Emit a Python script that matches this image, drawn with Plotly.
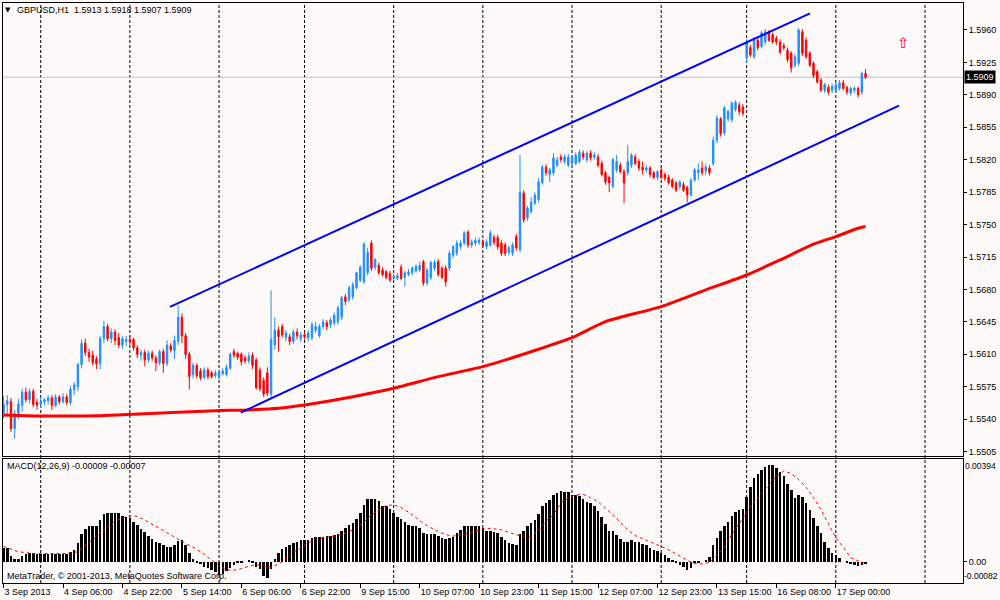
import plotly.graph_objects as go

# ---------------- data (prices in 1/10000) ----------------
opens = [15547,15556,15559,15530,15545,15555,15569,15561,15570,15558,15556,15559,15560,15563,15555,15564,15559,15564,15558,15572,
15575,15599,15622,15612,15609,15605,15600,15627,15640,15627,15634,15628,15620,15624,15626,15626,15617,15609,15612,15604,
15611,15606,15601,15613,15600,15619,15614,15624,15650,15630,15610,15588,15598,15592,15585,15593,15590,15587,15586,15589,
15588,15595,15613,15611,15610,15606,15603,15609,15604,15593,15582,15590,15567,15620,15636,15640,15628,15629,15624,15634,
15627,15631,15628,15628,15636,15630,15640,15644,15642,15644,15645,15650,15672,15669,15672,15682,15690,15688,15698,15730,
15704,15706,15701,15699,15697,15692,15692,15704,15693,15696,15698,15700,15701,15710,15687,15693,15703,15710,15703,15703,
15703,15717,15719,15726,15730,15742,15728,15730,15731,15731,15726,15728,15736,15736,15730,15728,15720,15719,15737,15723,
15784,15757,15764,15773,15777,15795,15812,15804,15806,15814,15823,15818,15814,15816,15816,15818,15827,15820,15827,15823,
15823,15816,15806,15801,15791,15809,15814,15807,15806,15814,15823,15818,15812,15809,15811,15806,15801,15809,15804,15801,
15798,15795,15791,15793,15790,15782,15798,15806,15811,15808,15811,15816,15841,15864,15849,15864,15863,15874,15879,15877,
15930,15941,15931,15949,15942,15947,15957,15955,15951,15947,15943,15938,15935,15922,15924,15958,15949,15935,15924,15915,
15906,15895,15898,15895,15895,15897,15903,15898,15892,15895,15897,15893,15913]
highs = [15565,15566,15563,15550,15562,15573,15574,15573,15573,15562,15564,15563,15566,15566,15567,15566,15568,15567,15576,15580,
15601,15626,15627,15616,15614,15608,15630,15646,15643,15638,15637,15633,15630,15630,15630,15628,15620,15615,15615,15614,
15614,15609,15615,15616,15625,15622,15630,15663,15654,15633,15613,15601,15600,15595,15596,15596,15592,15593,15592,15595,
15599,15612,15616,15613,15612,15609,15612,15612,15606,15596,15585,15596,15679,15650,15640,15643,15636,15632,15637,15638,
15634,15634,15636,15645,15645,15643,15648,15647,15650,15655,15663,15673,15675,15684,15688,15699,15706,15731,15725,15733,
15714,15709,15704,15701,15700,15697,15698,15707,15700,15702,15705,15707,15710,15712,15703,15711,15712,15713,15705,15706,
15722,15728,15733,15733,15743,15744,15734,15736,15736,15734,15734,15744,15739,15739,15733,15731,15727,15731,15740,15825,
15787,15770,15780,15785,15800,15815,15815,15811,15827,15823,15826,15826,15826,15825,15828,15831,15830,15829,15830,15828,
15826,15819,15808,15803,15822,15825,15817,15810,15836,15827,15826,15821,15818,15814,15813,15808,15809,15812,15806,15804,
15800,15797,15798,15796,15792,15800,15811,15816,15818,15815,15814,15845,15868,15866,15878,15874,15883,15884,15882,15880,
15950,15944,15952,15952,15959,15961,15960,15957,15954,15950,15946,15941,15937,15934,15962,15961,15952,15937,15926,15917,
15908,15903,15901,15902,15904,15906,15906,15900,15899,15899,15899,15915,15918]
lows = [15541,15545,15526,15519,15540,15548,15558,15557,15553,15550,15552,15555,15556,15550,15553,15556,15557,15555,15555,15566,
15570,15595,15608,15602,15598,15594,15594,15622,15624,15622,15620,15617,15616,15619,15620,15614,15606,15603,15597,15601,
15603,15592,15598,15590,15597,15612,15605,15620,15622,15605,15572,15584,15584,15582,15583,15583,15584,15584,15583,15587,
15586,15593,15606,15604,15598,15600,15600,15594,15572,15570,15564,15565,15564,15615,15613,15628,15624,15620,15621,15626,
15623,15626,15624,15625,15633,15628,15637,15636,15638,15641,15642,15647,15663,15666,15669,15680,15688,15686,15695,15700,
15701,15696,15694,15691,15688,15689,15690,15690,15683,15694,15695,15698,15699,15684,15684,15690,15700,15694,15691,15683,
15700,15714,15716,15723,15728,15725,15725,15727,15728,15725,15723,15726,15728,15723,15716,15716,15717,15716,15722,15720,
15752,15754,15762,15771,15774,15793,15803,15796,15803,15812,15817,15815,15812,15813,15814,15816,15820,15817,15819,15820,
15812,15802,15793,15785,15789,15806,15805,15773,15803,15811,15814,15808,15804,15806,15801,15799,15798,15799,15797,15793,
15789,15785,15788,15785,15774,15780,15796,15798,15803,15804,15803,15813,15838,15845,15846,15861,15860,15872,15868,15867,
15925,15931,15929,15938,15940,15944,15947,15945,15944,15934,15938,15925,15914,15919,15921,15932,15929,15920,15908,15902,
15893,15892,15890,15892,15892,15895,15895,15890,15889,15892,15887,15890,15907]
closes = [15556,15560,15530,15546,15556,15569,15561,15570,15556,15555,15559,15561,15563,15555,15564,15559,15564,15558,15572,15577,
15599,15622,15612,15607,15601,15600,15627,15640,15627,15634,15625,15620,15627,15626,15624,15617,15610,15612,15604,15611,
15606,15601,15613,15600,15620,15615,15625,15650,15630,15610,15586,15598,15587,15585,15593,15586,15586,15590,15590,15592,
15596,15610,15609,15607,15602,15603,15608,15598,15574,15573,15567,15568,15626,15636,15629,15631,15633,15624,15634,15630,
15631,15629,15633,15642,15640,15640,15645,15640,15647,15652,15660,15671,15667,15682,15685,15698,15704,15729,15720,15703,
15712,15698,15696,15693,15690,15694,15695,15692,15698,15699,15703,15705,15706,15687,15701,15709,15709,15696,15693,15688,
15719,15726,15730,15730,15741,15728,15731,15733,15733,15728,15731,15741,15731,15726,15719,15719,15725,15728,15725,15785,
15755,15768,15774,15782,15796,15812,15806,15809,15822,15820,15820,15823,15823,15823,15825,15828,15823,15827,15822,15825,
15814,15804,15796,15795,15820,15818,15807,15795,15818,15825,15816,15811,15809,15811,15804,15801,15807,15801,15800,15795,
15791,15787,15796,15787,15782,15798,15809,15809,15806,15812,15806,15841,15865,15848,15876,15872,15881,15882,15872,15870,
15946,15933,15949,15941,15957,15958,15949,15947,15947,15936,15941,15928,15919,15931,15960,15935,15931,15922,15911,15904,
15895,15901,15893,15899,15901,15903,15897,15893,15897,15897,15890,15913,15909]

# MACD main line (histogram) in 1e-5
macd = [54,51,20,10,11,22,30,34,32,30,30,29,28,28,29,29,30,30,37,44,
70,105,126,136,138,138,160,182,188,188,186,186,177,173,167,151,141,126,113,100,
87,75,71,62,58,55,64,80,82,62,32,10,-2,-10,-19,-25,-32,-41,-51,-49,
-36,-23,-13,-6,-4,0,3,-6,-19,-28,-54,-61,-28,10,32,47,57,64,71,74,
82,83,82,92,94,96,96,98,100,103,108,118,128,141,148,163,186,218,240,240,
240,231,215,215,203,186,173,164,151,141,137,135,131,109,105,105,105,100,92,86,
90,95,109,122,135,135,135,135,135,128,119,119,115,109,96,83,70,67,64,105,
118,135,149,160,182,212,227,237,256,265,272,269,266,256,256,252,241,230,224,214,
195,173,144,118,118,102,87,74,77,83,77,74,67,62,51,45,41,32,26,15,
3,-6,-12,-19,-32,-23,-6,-2,0,7,19,64,90,118,135,154,177,190,199,202,
250,285,320,337,352,365,371,371,361,346,327,297,275,246,254,247,224,199,169,137,
109,77,54,32,26,13,0,-2,-9,-13,-17,-12,-9]

# Signal line (read at sample bars), 1e-5
sig_idx = [0,4,8,13,17,20,22,24,26,28,30,32,34,36,38,41,44,47,49,51,53,56,58,60,62,64,66,68,70,72,74,76,78,80,82,84,86,88,91,93,95,97,99,101,103,105,107,109,111,113,115,117,119,121,124,126,129,131,134,136,138,140,142,144,146,148,150,152,154,156,158,160,162,164,166,168,170,172,174,176,178,180,182,184,186,188,190,192,194,196,198,200,202,204,206,208,210,212,214,216,218,220,222,224,226,228,230,232]
sig_val = [58,38,31,30,31,38,60,85,109,135,154,168,176,174,160,135,109,85,70,55,38,6,-15,-32,-33,-27,-18,-12,-17,-20,-10,10,35,55,72,84,90,96,104,115,130,152,180,200,215,218,208,190,168,147,130,115,104,98,105,112,126,128,122,112,103,97,98,120,155,180,225,245,256,258,246,230,205,180,150,122,100,88,78,65,52,38,20,5,-8,-9,-3,25,55,105,145,185,228,262,295,327,348,338,315,285,245,200,145,92,55,15,3,-7]

# Moving average (read at sample bars)
ma_idx = [0,10,26,35,47,57,66,74,81,94,105,117,129,144,153,162,177,189,200,209,218,224,230,232]
ma_val = [1.55446,1.55435,1.55438,1.55453,1.55475,1.55492,1.55500,1.55518,1.55554,1.55643,1.55734,1.55859,1.55967,1.56155,1.56280,1.56453,1.56615,1.56795,1.56956,1.57118,1.57288,1.57370,1.57460,1.57480]

# Channel (trend lines): bar index and price at both ends
chan_up_idx = [44.8, 217.05]
chan_up_px = [1.56611, 1.59780]
chan_lo_idx = [63.83, 241.0]
chan_lo_px = [1.55471, 1.58783]

time_tick_idx = [0,16,32,48,64,80,96,112,128,144,160,176,192,208,224]
time_tick_text = ["3 Sep 2013","4 Sep 06:00","4 Sep 22:00","5 Sep 14:00","6 Sep 06:00","6 Sep 22:00",
                  "9 Sep 15:00","10 Sep 07:00","10 Sep 23:00","11 Sep 15:00","12 Sep 07:00","12 Sep 23:00",
                  "13 Sep 15:00","16 Sep 08:00","17 Sep 00:00"]
day_start_idx = [10,34,58,81,105,129,153,177,200,224,248]
price_ticks = [1.5960,1.5925,1.5890,1.5855,1.5820,1.5785,1.5750,1.5715,1.5680,1.5645,1.5610,1.5575,1.5540,1.5505]
price_range = [1.55003, 1.59891]
x_range = [-0.15, 258.23]
last_price = 1.5909
arrow_idx, arrow_px = 242.1, 1.5946
macd_range = [-0.00082, 0.00394]

title_text = "GBPUSD,H1\u00a0 1.5913 1.5918 1.5907 1.5909"
macd_text = "MACD(12,26,9) -0.00009 -0.00007"
copyright_text = "MetaTrader, © 2001-2013, MetaQuotes Software Corp."

# ---------------- figure ----------------
P = 10000.0
idx = list(range(len(closes)))
FONT = "Liberation Sans, Arial, sans-serif"
BG = "#FFFAFA"

fig = go.Figure()
fig.add_trace(go.Candlestick(
    x=idx, open=[v / P for v in opens], high=[v / P for v in highs],
    low=[v / P for v in lows], close=[v / P for v in closes],
    increasing=dict(line=dict(color="#1E90FF", width=1), fillcolor="#1E90FF"),
    decreasing=dict(line=dict(color="#FF0000", width=1), fillcolor="#FF0000"),
    whiskerwidth=0, xaxis="x", yaxis="y", hoverinfo="skip"))
fig.add_trace(go.Scatter(x=ma_idx, y=ma_val, mode="lines",
                         line=dict(color="#FF0000", width=3, shape="spline", smoothing=0.6),
                         xaxis="x", yaxis="y"))
fig.add_trace(go.Scatter(x=chan_up_idx, y=chan_up_px, mode="lines",
                         line=dict(color="#0000FF", width=2), xaxis="x", yaxis="y"))
fig.add_trace(go.Scatter(x=chan_lo_idx, y=chan_lo_px, mode="lines",
                         line=dict(color="#0000FF", width=2), xaxis="x", yaxis="y"))
fig.add_trace(go.Bar(x=idx, y=[v / 1e5 for v in macd], width=0.68,
                     marker=dict(color="#000000", line=dict(width=0)),
                     xaxis="x2", yaxis="y2"))
fig.add_trace(go.Scatter(x=sig_idx, y=[v / 1e5 for v in sig_val], mode="lines",
                         line=dict(color="#FF0000", width=1, dash="dot"),
                         xaxis="x2", yaxis="y2"))

shapes = []
for d in day_start_idx:
    shapes.append(dict(type="line", xref="x", yref="paper", x0=d, x1=d, y0=0, y1=1,
                       line=dict(color="#000000", width=1, dash="3px,2px"), layer="below"))
shapes.append(dict(type="line", xref="paper", yref="y", x0=0, x1=1, y0=last_price, y1=last_price,
                   line=dict(color="#C0C0C0", width=1), layer="below"))

tf = dict(family=FONT, size=9, color="#000000")
tf_small = dict(family=FONT, size=8.5, color="#000000")
annotations = [
    dict(text="▼", xref="paper", yref="paper", x=0, y=1, xanchor="left", yanchor="top",
         xshift=0, yshift=-1, showarrow=False, font=dict(family="DejaVu Sans", size=7, color="#000000")),
    dict(text=title_text, xref="paper", yref="paper", x=0, y=1, xanchor="left", yanchor="top",
         xshift=12, yshift=0, showarrow=False, font=tf),
    dict(text=macd_text, xref="paper", yref="y2 domain", x=0, y=1, xanchor="left", yanchor="top",
         xshift=2, yshift=0, showarrow=False, font=tf),
    dict(text=copyright_text, xref="paper", yref="y2 domain", x=0, y=0, xanchor="left", yanchor="bottom",
         xshift=2, yshift=0, showarrow=False, font=tf),
    dict(text="⇧", xref="x", yref="y", x=arrow_idx, y=arrow_px, showarrow=False,
         font=dict(family="DejaVu Sans", size=15, color="#FF0000")),
    dict(text="%.4f" % last_price, xref="paper", yref="y", x=1, y=last_price, xanchor="left",
         yanchor="middle", xshift=1, showarrow=False, bgcolor="#000000", borderpad=1,
         font=dict(family=FONT, size=9, color="#FFFFFF")),
    dict(text="%.5f" % macd_range[1], xref="paper", yref="y2 domain", x=1, y=1, xanchor="left",
         yanchor="top", xshift=0, yshift=0, showarrow=False, font=tf_small),
    dict(text="%.5f" % macd_range[0], xref="paper", yref="y2 domain", x=1, y=0, xanchor="left",
         yanchor="bottom", xshift=-1, yshift=0, showarrow=False, font=tf_small),
]

axis_common = dict(showgrid=False, zeroline=False, showline=True, linecolor="#000000",
                   linewidth=1, mirror=True)

fig.update_layout(
    width=1000, height=600,
    margin=dict(l=3, r=37, t=3, b=17),
    paper_bgcolor=BG, plot_bgcolor=BG,
    showlegend=False, hovermode=False, boxgap=0.45, bargap=0,
    font=tf,
    xaxis=dict(domain=[0, 1], range=x_range, anchor="y", showticklabels=False, ticks="",
               rangeslider=dict(visible=False), **axis_common),
    yaxis=dict(domain=[0.219, 1], range=price_range, side="right", anchor="x",
               tickvals=price_ticks, ticktext=["%.4f" % v for v in price_ticks],
               ticks="outside", ticklen=3, tickcolor="#000000", tickfont=tf, **axis_common),
    xaxis2=dict(domain=[0, 1], range=x_range, anchor="y2", matches="x",
                tickvals=time_tick_idx, ticktext=time_tick_text, ticks="outside", ticklen=4,
                tickangle=0, tickcolor="#000000", ticklabelposition="outside right",
                tickfont=tf, **axis_common),
    yaxis2=dict(domain=[0, 0.2138], range=macd_range, side="right", anchor="x2",
                tickvals=[0], ticktext=["0.00"], ticks="outside", ticklen=3,
                tickcolor="#000000", tickfont=tf, **axis_common),
    shapes=shapes, annotations=annotations,
)

fig.write_html("out.html", config={"displayModeBar": False},
               post_script="document.body.style.margin='0';document.body.style.background='%s';" % BG)
